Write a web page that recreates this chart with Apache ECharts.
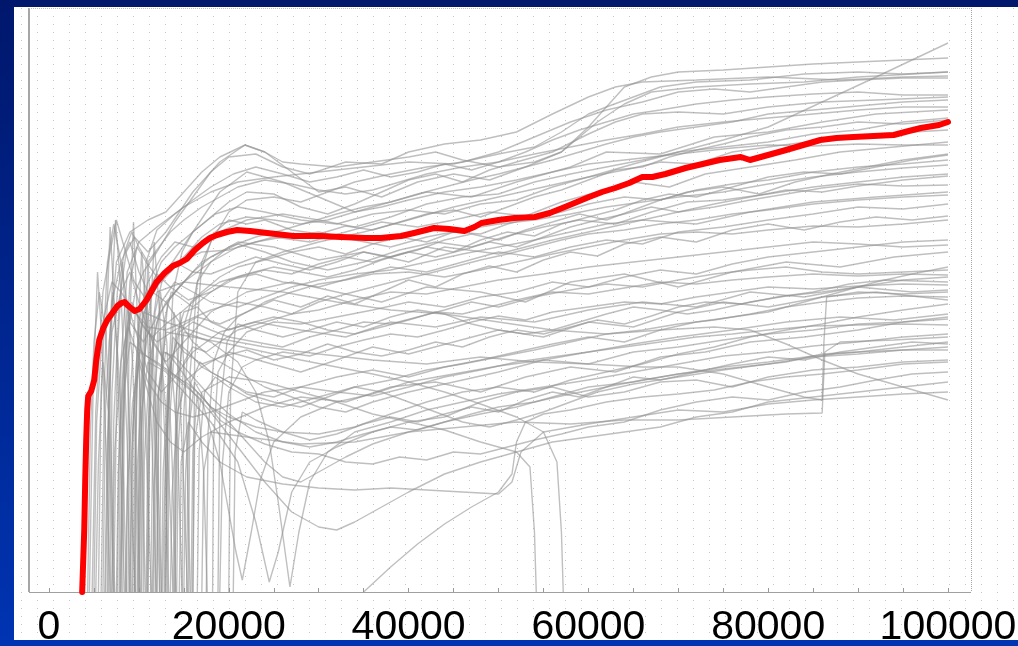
<!DOCTYPE html>
<html><head><meta charset="utf-8">
<script src="https://cdn.jsdelivr.net/npm/echarts@6/dist/echarts.min.js"></script>
<style>html,body{margin:0;padding:0;width:1018px;height:646px;overflow:hidden;background:#001a70}#c{width:1018px;height:646px}</style>
</head><body><div id="c"></div><script>
// x-axis tick labels
const xTicks = [0, 20000, 40000, 60000, 80000, 100000];
// mean (red) curve
const meanLine = [[3690,0],[3920,62],[4030,112],[4140,152],[4250,182],[4360,196],[4700,201],[5030,212],[5260,232],[5590,252],[6040,264],[6490,272],[7050,279],[7610,286],[8050,289],[8390,290],[8840,286],[9510,281],[10070,283],[10850,292],[11970,310],[12860,319],[13760,326],[14540,329],[15330,333],[16220,342],[17120,349],[17900,354],[18680,357],[19800,360],[20920,362],[22370,361],[24270,359],[27180,356],[30200,356],[32440,355],[35240,354],[36910,354],[39150,356],[40610,359],[41950,362],[42840,364],[44520,363],[46200,361],[47320,365],[48100,369],[50000,372],[51790,374],[54030,375],[55710,379],[57380,385],[58730,390],[60070,395],[61520,400],[62980,404],[64540,409],[66000,415],[67120,415],[68570,418],[70810,424],[72710,428],[74610,432],[76960,435],[77970,432],[79980,437],[81990,442],[83900,447],[85800,452],[87590,454],[89490,455],[91730,456],[93960,457],[95640,461],[96980,464],[99000,467],[100000,470]];
// individual runs (grey)
const g01 = [[4800,0],[5200,180],[6000,300],[6800,340],[7500,372],[8200,350],[9500,310],[11000,290],[13000,320],[16000,360],[19000,400],[22000,420],[26000,410],[30000,395],[34000,380],[38000,390],[42000,400],[47000,395],[52000,410],[58000,425],[62000,440],[68000,438],[74000,455],[80000,460],[86000,470],[92000,478],[100000,482]];
const g02 = [[5500,0],[5800,200],[6500,330],[7200,368],[8000,330],[9000,270],[10500,250],[12000,275],[14000,300],[17000,330],[21000,350],[25000,345],[30000,332],[35000,340],[40000,330],[44000,345],[50000,338],[56000,352],[60000,360],[66000,372],[72000,368],[78000,380],[85000,390],[92000,395],[100000,400]];
const g03 = [[6200,0],[6500,150],[7000,260],[8000,300],[9000,320],[10000,290],[11500,250],[13000,230],[15000,250],[18000,280],[22000,300],[27000,310],[32000,300],[37000,290],[42000,305],[48000,300],[53000,290],[58000,310],[64000,318],[70000,305],[76000,320],[82000,330],[88000,325],[94000,335],[100000,340]];
const g04 = [[7000,0],[7200,170],[7800,290],[8600,340],[9500,355],[11000,340],[13000,360],[16000,400],[19000,430],[21800,447],[24000,440],[27000,420],[30000,400],[33000,405],[37000,395],[41000,410],[45000,418],[49000,412],[53000,425],[57000,440],[61000,470],[64000,488],[67000,500],[72000,505],[78000,508],[84000,510],[90000,515],[96000,518],[100000,520]];
const g05 = [[7500,0],[7700,120],[8300,220],[9000,280],[10000,250],[11000,220],[12500,200],[14000,215],[16000,240],[19000,260],[23000,270],[28000,262],[33000,255],[38000,270],[43000,265],[48000,275],[54000,270],[60000,282],[66000,290],[72000,285],[78000,300],[84000,295],[90000,305],[96000,300],[100000,302]];
const g06 = [[8000,0],[8200,160],[8800,260],[9600,300],[10500,320],[12000,340],[14000,370],[16000,395],[18000,420],[20000,435],[23000,438],[26000,425],[29000,418],[33000,430],[37000,428],[40000,440],[44000,448],[48000,452],[52000,460],[56000,478],[60000,495],[63000,505],[66000,510],[72000,512],[80000,515],[88000,512],[95000,515],[100000,516]];
const g07 = [[8500,0],[8700,100],[9300,190],[10000,230],[11000,200],[12000,170],[13500,150],[15000,140],[17000,155],[20000,170],[24000,185],[28000,195],[33000,190],[38000,205],[43000,210],[48000,200],[53000,215],[58000,225],[63000,220],[68000,235],[73000,240],[78000,250],[84000,255],[90000,262],[95000,270],[100000,275]];
const g08 = [[9000,0],[9200,140],[9800,240],[10600,280],[11500,300],[13000,290],[15000,310],[18000,330],[21000,345],[25000,355],[29000,350],[33000,360],[37000,370],[41000,365],[45000,372],[49000,380],[53000,376],[57000,390],[61000,400],[65000,410],[69000,405],[73000,418],[78000,425],[83000,432],[88000,440],[94000,445],[100000,450]];
const g09 = [[9600,0],[9800,120],[10400,220],[11000,260],[12000,245],[13500,220],[15000,210],[17000,225],[20000,240],[24000,230],[28000,220],[32000,232],[36000,245],[40000,238],[45000,250],[50000,262],[55000,255],[60000,270],[65000,265],[70000,280],[75000,290],[80000,285],[86000,295],[92000,300],[100000,292]];
const g10 = [[10000,0],[10200,150],[10800,260],[11600,310],[12500,330],[14000,345],[16000,360],[18500,378],[21000,385],[24000,380],[28000,372],[32000,368],[36000,378],[40000,382],[44000,378],[48000,388],[52000,392],[56000,405],[60000,415],[64000,422],[68000,430],[72000,428],[76000,440],[80000,445],[86000,452],[92000,458],[100000,462]];
const g11 = [[10500,0],[10600,130],[11200,230],[12000,270],[13000,290],[14500,270],[16000,250],[18000,235],[21000,220],[24000,205],[27000,195],[30000,185],[33000,180],[36000,190],[40000,200],[45000,210],[50000,220],[55000,232],[60000,240],[65000,248],[70000,255],[76000,262],[82000,270],[88000,275],[94000,272],[100000,278]];
const g12 = [[11000,0],[11200,170],[11800,280],[12800,320],[14000,330],[16000,320],[18000,335],[21000,348],[24000,340],[27000,330],[31000,322],[35000,330],[39000,342],[43000,350],[47000,345],[51000,356],[55000,365],[59000,372],[63000,368],[67000,380],[71000,390],[75000,392],[80000,398],[85000,405],[90000,410],[95000,415],[100000,418]];
const g13 = [[11500,0],[11700,110],[12200,200],[13000,240],[14000,230],[16000,205],[18000,185],[20000,170],[22000,150],[24000,130],[26000,115],[28000,110],[30000,120],[33000,135],[36000,148],[40000,160],[44000,170],[48000,178],[52000,185],[56000,195],[60000,205],[65000,210],[70000,218],[75000,225],[80000,230],[85000,236],[90000,240],[95000,245],[100000,250]];
const g14 = [[12000,0],[12200,160],[12800,270],[13600,300],[14500,295],[16000,285],[18000,300],[20000,312],[23000,318],[26000,310],[30000,305],[34000,315],[38000,325],[42000,320],[46000,330],[50000,340],[54000,335],[58000,345],[62000,352],[66000,348],[70000,360],[75000,365],[80000,372],[85000,378],[90000,385],[95000,383],[100000,388]];
const g15 = [[12500,0],[12700,120],[13300,220],[14200,250],[15500,240],[17000,225],[19000,215],[22000,200],[25000,195],[28000,205],[32000,215],[36000,222],[40000,215],[44000,225],[48000,232],[52000,240],[56000,248],[60000,255],[64000,250],[68000,262],[72000,270],[76000,275],[80000,280],[84000,290],[88000,300],[92000,310],[96000,318],[100000,325]];
const g16 = [[13000,0],[13200,200],[13800,300],[14800,340],[16000,360],[18000,375],[20000,390],[22000,400],[25000,398],[28000,385],[31000,378],[34000,388],[37000,400],[40000,412],[43000,418],[46000,410],[49000,422],[52000,430],[56000,440],[60000,458],[63000,470],[66000,478],[70000,480],[75000,478],[80000,485],[86000,490],[92000,492],[100000,495]];
const g17 = [[13500,0],[13700,100],[14300,180],[15200,210],[16500,200],[18000,185],[20000,175],[23000,165],[26000,160],[30000,158],[34000,165],[38000,178],[42000,190],[46000,200],[50000,205],[54000,200],[58000,212],[62000,220],[66000,228],[70000,238],[74000,245],[78000,255],[82000,262],[86000,268],[90000,275],[95000,282],[100000,288]];
const g18 = [[14000,0],[14200,150],[14800,260],[15800,290],[17000,300],[19000,315],[21000,325],[24000,332],[27000,340],[30000,345],[33000,338],[36000,348],[39000,355],[42000,350],[45000,360],[48000,358],[51000,368],[54000,375],[57000,380],[60000,388],[64000,395],[68000,392],[72000,402],[76000,408],[80000,412],[85000,420],[90000,425],[95000,428],[100000,432]];
const g19 = [[15000,0],[15200,120],[15800,210],[16800,230],[18000,220],[20000,210],[22000,198],[25000,190],[28000,185],[31000,195],[34000,205],[37000,200],[40000,190],[43000,180],[46000,170],[49000,165],[52000,172],[55000,180],[58000,190],[61000,200],[65000,208],[70000,215],[75000,222],[80000,228],[85000,235],[90000,238],[95000,242],[100000,245]];
const g20 = [[18200,0],[18300,150],[18800,220],[20000,240],[22000,260],[25000,270],[28000,268],[32000,275],[36000,282],[40000,290],[44000,285],[48000,295],[52000,300],[56000,310],[60000,305],[64000,315],[68000,322],[72000,318],[76000,328],[80000,335],[85000,340],[90000,345],[95000,350],[100000,352]];
const g21 = [[8000,0],[8300,200],[9000,250],[11000,235],[14000,215],[17000,192],[19000,130],[20800,40],[21500,12],[22500,60],[23500,112],[25000,150],[28000,175],[32000,190],[36000,198],[40000,210],[45000,218],[50000,226],[55000,232],[60000,228],[65000,240],[70000,245],[75000,252],[80000,258],[85000,262],[90000,268],[95000,270],[100000,273]];
const g22 = [[10000,0],[10300,180],[11000,230],[13000,220],[15000,200],[18000,170],[21000,130],[23000,70],[24500,10],[25500,40],[27000,100],[29000,130],[32000,145],[36000,160],[40000,170],[44000,175],[48000,190],[52000,200],[56000,205],[60000,195],[64000,200],[68000,210],[72000,212],[76000,205],[80000,215],[85000,222],[90000,225],[95000,230],[100000,232]];
const g23 = [[9000,0],[9300,160],[10000,240],[12000,230],[15000,210],[18000,180],[21000,145],[24000,110],[27000,80],[30000,65],[32000,62],[34000,70],[37000,85],[40000,100],[44000,118],[48000,130],[52000,140],[56000,150],[60000,155],[64000,160],[68000,165],[72000,175],[76000,180],[80000,190],[85000,195],[90000,200],[95000,205],[100000,210]];
const g24 = [[35000,0],[38000,25],[41000,48],[44000,68],[47000,85],[50000,100],[51500,118],[52000,150],[53000,170],[55000,178],[58000,182],[62000,190],[66000,195],[70000,198],[74000,202],[78000,210],[82000,215],[86000,218],[90000,222],[95000,228],[100000,230]];
const g25 = [[14500,0],[14700,130],[15500,170],[17000,150],[19000,130],[22000,115],[26000,108],[30000,104],[34000,102],[38000,104],[42000,102],[46000,100],[50000,98],[51500,110],[52500,140],[55000,160],[60000,168],[65000,175],[70000,182],[75000,180],[80000,188],[85000,192],[90000,195],[95000,198],[100000,200]];
const g26 = [[16000,0],[16200,150],[17000,200],[20000,215],[24000,210],[28000,200],[32000,190],[36000,178],[40000,170],[44000,162],[48000,150],[52000,140],[53500,125],[54000,60],[54200,0]];
const g27 = [[12000,0],[12200,200],[13000,260],[16000,255],[20000,248],[24000,240],[28000,232],[32000,225],[36000,218],[40000,210],[44000,200],[48000,188],[52000,175],[55000,160],[56500,130],[57000,60],[57200,0]];
const g28 = [[9500,0],[9700,200],[10500,280],[13000,270],[18000,255],[24000,245],[30000,238],[36000,232],[42000,228],[48000,235],[54000,230],[60000,228],[66000,225],[70000,225],[75000,218],[80000,205],[84000,195],[86000,192],[86200,250],[86500,295],[90000,300],[95000,298],[100000,300]];
const g29 = [[17000,0],[17200,120],[18000,160],[22000,155],[28000,148],[34000,150],[40000,160],[46000,165],[52000,170],[58000,168],[64000,172],[70000,172],[76000,175],[82000,178],[86000,179],[86300,240],[88000,250],[94000,252],[100000,255]];
const g30 = [[11000,0],[11300,250],[12000,300],[15000,310],[20000,305],[26000,300],[32000,290],[38000,282],[44000,278],[50000,270],[56000,262],[62000,258],[68000,262],[74000,265],[78000,262],[82000,248],[86000,232],[90000,218],[95000,205],[100000,192]];
const g31 = [[6500,0],[6700,250],[7500,330],[9000,360],[11000,372],[13000,380],[15000,400],[17000,420],[19000,435],[21800,447],[24000,440],[26000,430],[28000,428],[32000,425],[36000,430],[40000,435],[43000,440],[46000,432],[50000,425],[54000,430],[57000,440],[60000,465],[62000,485],[64000,505],[67000,515],[70000,520],[75000,522],[80000,525],[85000,528],[90000,530],[95000,532],[100000,534]];
const g32 = [[20000,0],[20200,200],[21000,300],[23000,330],[26000,340],[30000,350],[35000,360],[40000,372],[45000,385],[50000,395],[55000,405],[60000,415],[65000,428],[70000,440],[75000,452],[80000,465],[86000,490],[92000,515],[96000,532],[100000,549]];
const g33 = [[15500,0],[15700,220],[16500,310],[18000,350],[20000,380],[22000,392],[25000,395],[28000,390],[31000,400],[34000,410],[38000,418],[42000,425],[46000,430],[50000,440],[54000,455],[58000,470],[62000,482],[66000,490],[70000,500],[74000,503],[78000,500],[82000,505],[86000,510],[90000,512],[95000,514],[100000,514]];
const g34 = [[7800,0],[8000,230],[8700,320],[10000,350],[12000,365],[15000,385],[18000,400],[21000,410],[25000,415],[30000,420],[35000,425],[40000,430],[45000,428],[50000,438],[54000,445],[57000,460],[60000,478],[62000,485],[65000,495],[68000,505],[72000,510],[78000,512],[84000,518],[90000,520],[95000,518],[100000,520]];
const g35 = [[9200,0],[9400,180],[10000,270],[11000,310],[12500,335],[14000,350],[16000,345],[19000,360],[22000,372],[26000,378],[30000,372],[34000,365],[38000,375],[42000,388],[46000,395],[50000,398],[54000,410],[58000,418],[62000,425],[66000,432],[70000,440],[75000,445],[80000,450],[85000,458],[90000,462],[95000,470],[100000,474]];
const g36 = [[10800,0],[11000,160],[11600,250],[12500,290],[14000,310],[16000,300],[18000,290],[21000,285],[24000,295],[27000,305],[30000,312],[34000,318],[38000,322],[42000,330],[46000,338],[50000,345],[54000,352],[58000,360],[62000,368],[66000,372],[70000,380],[74000,385],[78000,392],[82000,398],[86000,404],[90000,408],[95000,406],[100000,407]];
const g37 = [[5000,0],[5300,170],[6000,270],[7000,310],[8000,300],[9500,280],[11000,265],[13000,262],[15000,270],[18000,282],[21000,290],[24000,285],[27000,278],[30000,282],[34000,292],[38000,300],[42000,298],[46000,305],[50000,312],[55000,318],[60000,325],[65000,330],[70000,335],[75000,340],[80000,345],[85000,350],[90000,348],[95000,345],[100000,347]];
const g38 = [[6000,0],[6300,190],[7000,290],[8000,330],[9000,350],[10000,320],[11000,300],[12500,310],[14500,330],[17000,340],[20000,342],[23000,350],[26000,355],[30000,360],[34000,352],[38000,345],[42000,355],[46000,362],[50000,368],[54000,372],[58000,378],[62000,385],[66000,390],[70000,395],[75000,400],[80000,408],[85000,415],[90000,420],[95000,424],[100000,427]];
const g39 = [[12800,0],[13000,140],[13600,230],[14500,260],[16000,270],[18000,262],[20000,255],[23000,250],[26000,245],[29000,255],[32000,262],[35000,270],[38000,268],[41000,275],[44000,282],[47000,290],[50000,285],[54000,295],[58000,302],[62000,308],[66000,305],[70000,312],[74000,318],[78000,322],[82000,325],[86000,320],[90000,318],[95000,320],[100000,322]];
const g40 = [[7000,0],[7300,140],[8000,230],[8800,265],[9800,240],[11000,210],[12500,190],[14000,180],[16000,175],[18000,180],[21000,190],[24000,200],[28000,205],[32000,200],[36000,196],[40000,205],[44000,215],[48000,222],[52000,230],[56000,235],[60000,240],[64000,245],[68000,250],[72000,255],[76000,258],[80000,262],[85000,266],[90000,267],[95000,268],[100000,267]];
const g41 = [[14800,0],[15000,180],[15600,270],[16500,310],[18000,330],[20000,345],[23000,355],[26000,362],[29000,370],[32000,378],[35000,385],[38000,390],[41000,398],[44000,405],[47000,412],[50000,418],[53000,425],[56000,432],[59000,440],[62000,448],[65000,455],[68000,460],[72000,465],[76000,470],[80000,478],[85000,482],[90000,486],[95000,490],[100000,492]];
const g42 = [[17500,0],[17700,160],[18300,230],[19500,260],[21000,275],[24000,290],[27000,300],[30000,308],[33000,312],[36000,318],[40000,320],[44000,315],[48000,322],[52000,330],[56000,338],[60000,345],[64000,352],[68000,358],[72000,360],[76000,358],[80000,362],[85000,366],[90000,365],[95000,368],[100000,372]];
const g43 = [[8200,0],[8400,210],[9000,310],[9800,345],[10800,330],[12000,315],[13500,320],[15000,335],[17000,355],[19000,368],[22000,375],[25000,372],[28000,368],[31000,372],[34000,380],[37000,385],[40000,392],[44000,400],[48000,405],[52000,412],[56000,420],[60000,428],[64000,432],[68000,436],[72000,440],[76000,444],[80000,447],[85000,446],[90000,448],[95000,447],[100000,447]];
const g44 = [[13200,0],[13400,170],[14000,250],[15000,280],[16500,285],[18000,270],[20000,262],[22000,268],[25000,275],[28000,270],[31000,262],[34000,258],[37000,265],[40000,272],[43000,280],[46000,278],[49000,285],[52000,292],[56000,300],[60000,298],[64000,304],[68000,310],[72000,308],[76000,312],[80000,315],[85000,318],[90000,316],[95000,318],[100000,317]];
const g45 = [[19000,0],[19300,130],[20000,200],[21500,225],[23000,232],[26000,240],[29000,236],[32000,245],[35000,252],[38000,258],[41000,255],[44000,262],[47000,270],[50000,276],[53000,272],[56000,280],[60000,285],[64000,290],[68000,288],[72000,295],[76000,300],[80000,305],[85000,303],[90000,306],[95000,308],[100000,307]];
const g46 = [[6800,0],[7000,200],[7600,300],[8400,340],[9200,360],[10000,345],[11000,330],[12000,342],[13500,360],[15000,372],[17000,385],[19000,395],[21000,405],[24000,412],[27000,408],[30000,402],[33000,398],[36000,402],[39000,410],[42000,418],[46000,425],[50000,430],[54000,438],[58000,445],[62000,452],[66000,458],[70000,465],[75000,470],[80000,474],[85000,478],[90000,482],[95000,485],[100000,485]];
const g47 = [[11800,0],[12000,190],[12700,240],[14000,235],[16000,215],[18000,195],[20000,178],[23000,160],[26000,150],[29000,145],[32000,150],[35000,158],[38000,165],[41000,162],[44000,170],[47000,178],[50000,185],[54000,190],[58000,198],[62000,205],[66000,212],[70000,218],[74000,222],[78000,226],[82000,230],[86000,238],[90000,240],[95000,242],[100000,242]];
const g48 = [[16500,0],[16700,140],[17300,200],[18500,215],[20000,205],[23000,190],[26000,185],[30000,195],[34000,205],[38000,212],[42000,222],[46000,228],[50000,235],[54000,242],[58000,250],[62000,258],[66000,262],[70000,268],[74000,272],[78000,278],[82000,285],[86000,290],[90000,294],[95000,296],[100000,295]];
const g49 = [[14200,0],[14400,150],[15000,230],[16000,245],[17500,240],[19000,250],[21000,262],[24000,270],[27000,278],[30000,290],[33000,298],[36000,305],[39000,312],[42000,318],[45000,325],[48000,332],[51000,338],[54000,345],[57000,352],[60000,358],[64000,362],[68000,368],[72000,372],[76000,378],[80000,382],[85000,388],[90000,392],[95000,395],[100000,397]];
const g50 = [[14000,0],[14200,200],[15000,260],[18000,250],[21000,230],[23000,200],[24500,150],[25500,90],[26800,5],[27800,60],[29000,110],[31000,140],[34000,160],[38000,170],[42000,182],[46000,190],[50000,198],[55000,205],[60000,212],[65000,220],[70000,228],[75000,236],[80000,240],[85000,246],[90000,250],[95000,255],[100000,258]];
const g51 = [[5800,0],[6200,220],[6800,365],[7500,250],[8000,120],[8400,0]];
const g52 = [[7200,0],[7600,240],[8200,330],[8800,200],[9300,60],[9600,0]];
const g53 = [[9800,0],[10200,200],[10800,300],[11500,220],[12000,100],[12300,0]];
const g54 = [[11300,0],[11600,180],[12300,260],[13000,180],[13500,80],[13800,0]];
const g55 = [[12600,0],[13000,150],[13600,230],[14300,150],[14800,0]];
const g56 = [[4300,0],[4600,160],[5000,250],[5600,300],[6300,260],[6900,140],[7300,0]];
const g57 = [[8600,0],[8900,250],[9400,370],[9900,260],[10400,120],[10700,0]];
const g58 = [[10300,0],[10600,220],[11000,330],[11600,240],[12200,90],[12500,0]];
const g59 = [[5200,0],[5500,130],[6000,230],[6600,180],[7000,60],[7200,0]];
const g60 = [[13800,0],[14100,180],[14600,280],[15200,200],[15700,0]];
const g61 = [[6600,0],[6900,280],[7400,372],[8000,300],[8700,150],[9000,0]];
const g62 = [[9300,0],[9600,160],[10100,270],[10700,180],[11200,40],[11400,0]];
const g63 = [[15800,0],[16000,140],[16500,200],[17200,120],[17600,0]];
const g64 = [[11600,0],[11900,230],[12400,300],[13100,250],[13700,130],[14100,0]];
const g65 = [[8800,0],[9000,190],[9600,280],[10500,265],[12000,250],[14000,262],[16500,275],[19000,268],[22000,280],[25000,292],[28000,285],[31000,296],[34000,288],[37000,300],[40000,312],[43000,305],[46000,318],[49000,326],[52000,320],[55000,332],[58000,340],[61000,336],[64000,348],[68000,355],[72000,350],[76000,362],[80000,368],[84000,362],[88000,370],[92000,375],[96000,372],[100000,376]];
const g66 = [[10200,0],[10400,210],[11000,300],[12000,318],[13500,305],[15500,292],[18000,300],[21000,315],[24000,322],[27000,318],[30000,328],[33000,335],[36000,330],[39000,338],[42000,345],[45000,340],[48000,352],[51000,360],[54000,356],[57000,368],[60000,375],[63000,382],[66000,392],[69000,398],[72000,395],[76000,405],[80000,415],[84000,420],[88000,418],[92000,425],[96000,432],[100000,437]];
const g67 = [[15300,0],[15500,160],[16200,210],[17500,190],[19000,172],[21000,160],[24000,148],[27000,140],[30000,138],[33000,130],[36000,128],[39000,135],[42000,132],[45000,140],[48000,138],[51000,145],[54000,152],[57000,158],[60000,165],[64000,170],[68000,182],[72000,190],[76000,195],[80000,192],[84000,200],[88000,205],[92000,212],[96000,218],[100000,220]];
const g68 = [[18800,0],[19000,180],[19800,250],[21000,268],[23000,262],[26000,255],[29000,262],[32000,270],[35000,265],[38000,275],[41000,282],[44000,278],[47000,268],[50000,262],[53000,258],[56000,262],[59000,270],[62000,278],[65000,285],[68000,282],[71000,278],[74000,282],[78000,290],[82000,296],[86000,300],[90000,305],[95000,312],[100000,315]];
const g69 = [[16000,0],[16200,230],[17000,330],[18500,360],[20000,372],[22000,368],[24000,372],[27000,362],[30000,358],[33000,366],[36000,362],[39000,370],[42000,378],[45000,382],[48000,375],[51000,385],[54000,395],[57000,402],[60000,412],[63000,422],[66000,425],[69000,435],[72000,442],[75000,448],[78000,455],[82000,462],[86000,465],[90000,470],[95000,468],[100000,472]];
const g70 = [[13000,0],[13200,180],[13800,255],[15000,240],[17000,228],[19500,236],[22000,242],[25000,232],[28000,238],[31000,248],[34000,240],[37000,236],[40000,242],[43000,250],[46000,245],[49000,255],[52000,262],[55000,258],[58000,265],[61000,272],[64000,268],[67000,276],[70000,285],[73000,290],[77000,288],[81000,295],[85000,300],[89000,308],[93000,312],[100000,310]];
const g71 = [[12300,0],[12500,210],[13200,290],[14500,305],[16000,320],[18000,318],[20000,325],[23000,335],[26000,328],[29000,322],[32000,330],[35000,340],[38000,335],[41000,342],[44000,352],[47000,358],[50000,352],[53000,362],[56000,370],[59000,378],[62000,372],[65000,382],[68000,392],[71000,400],[75000,405],[79000,398],[83000,410],[87000,418],[91000,425],[95000,432],[100000,438]];
const g72 = [[7600,0],[7800,150],[8400,250],[9200,290],[10200,270],[11500,255],[13000,268],[15000,282],[17000,298],[19000,310],[22000,318],[25000,325],[28000,320],[31000,315],[34000,322],[37000,332],[40000,340],[43000,335],[46000,342],[49000,350],[52000,345],[55000,355],[58000,365],[61000,372],[64000,378],[67000,385],[70000,380],[74000,388],[78000,395],[82000,402],[86000,400],[90000,406],[95000,412],[100000,416]];
const g73 = [[20500,0],[20700,140],[21500,180],[23000,172],[26000,160],[29000,152],[32000,158],[35000,168],[38000,175],[41000,170],[44000,178],[47000,185],[50000,180],[53000,192],[56000,200],[59000,195],[62000,205],[65000,215],[68000,212],[72000,220],[76000,228],[80000,235],[84000,232],[88000,240],[92000,245],[96000,250],[100000,248]];
const g74 = [[9900,0],[10100,240],[10800,330],[12000,362],[14000,378],[16000,392],[18000,405],[20500,418],[23000,425],[26000,418],[29000,410],[32000,415],[35000,422],[38000,415],[41000,420],[44000,428],[47000,422],[50000,430],[53000,440],[56000,452],[59000,462],[62000,470],[65000,478],[68000,482],[72000,488],[76000,492],[80000,495],[85000,498],[90000,500],[95000,497],[100000,497]];
const g75 = [[4500,0],[4900,200],[5400,320],[5900,250],[6400,130],[6800,0]];
const g76 = [[7900,0],[8200,180],[8700,290],[9300,230],[9800,100],[10100,0]];
const g77 = [[10900,0],[11200,260],[11700,350],[12300,280],[12900,150],[13300,0]];
const g78 = [[12900,0],[13300,200],[13900,280],[14500,210],[15100,80],[15400,0]];
const g79 = [[6300,0],[6600,170],[7100,300],[7700,230],[8300,110],[8600,0]];
const g80 = [[9500,0],[9800,230],[10300,340],[10900,270],[11500,140],[11900,0]];

const greyRuns = [g01,g02,g03,g04,g05,g06,g07,g08,g09,g10,g11,g12,g13,g14,g15,g16,g17,g18,g19,g20,g21,g22,g23,g24,g25,g26,g27,g28,g29,g30,g31,g32,g33,g34,g35,g36,g37,g38,g39,g40,g41,g42,g43,g44,g45,g46,g47,g48,g49,g50,g51,g52,g53,g54,g55,g56,g57,g58,g59,g60,g61,g62,g63,g64,g65,g66,g67,g68,g69,g70,g71,g72,g73,g74,g75,g76,g77,g78,g79,g80];

const dot = document.createElement('canvas');
dot.width = 16; dot.height = 8;
const dctx = dot.getContext('2d');
dctx.fillStyle = '#ffffff'; dctx.fillRect(0,0,16,8);
dctx.fillStyle = '#c4c4c4'; dctx.fillRect(5,0,1,1);

const chart = echarts.init(document.getElementById('c'), null, {renderer:'canvas'});
const series = greyRuns.map(function(d){
  return {type:'line', data:d, showSymbol:false, symbol:'none', silent:true, z:2,
    lineStyle:{color:'rgba(145,145,145,0.58)', width:1.4}};
});
series.push({type:'line', data:meanLine, showSymbol:false, symbol:'none', z:5,
  lineStyle:{color:'#ff0000', width:6, cap:'round', join:'round'}});

chart.setOption({
  animation:false,
  backgroundColor:{type:'linear', x:0, y:0, x2:0, y2:1, colorStops:[{offset:0,color:'#00176c'},{offset:1,color:'#0034b2'}]},
  graphic:[
    {type:'rect', z:0, shape:{x:14,y:7,width:1004,height:633}, style:{fill:{image:dot, repeat:'repeat'}}},
    {type:'line', z:1, shape:{x1:29,y1:8,x2:29,y2:592}, style:{stroke:'#a6a6a6', lineWidth:2}},
    {type:'line', z:1, shape:{x1:29,y1:8.5,x2:971,y2:8.5}, style:{stroke:'#bdbdbd', lineWidth:1, lineDash:[1,1]}},
    {type:'line', z:1, shape:{x1:971.5,y1:8,x2:971.5,y2:592}, style:{stroke:'#a6a6a6', lineWidth:1, lineDash:[1,1]}},
    {type:'line', z:1, shape:{x1:29,y1:592.5,x2:971,y2:592.5}, style:{stroke:'#a0a0a0', lineWidth:1}}
  ],
  grid:{left:49, right:70, top:8, bottom:54, outerBoundsMode:'none', containLabel:false},
  xAxis:{type:'value', min:xTicks[0], max:xTicks[xTicks.length-1], interval:20000,
    axisLine:{show:false},
    axisTick:{show:true, inside:true, length:4, lineStyle:{color:'#999'}},
    minorTick:{show:true, splitNumber:4, length:4, lineStyle:{color:'#999'}},
    splitLine:{show:false},
    axisLabel:{show:true, margin:15, fontSize:41, fontFamily:'Liberation Sans, Arial, sans-serif', color:'#000',
      formatter:function(v){ return String(v); }}},
  yAxis:{type:'value', min:0, max:584, show:false, splitLine:{show:false}},
  series:series
});
</script></body></html>
